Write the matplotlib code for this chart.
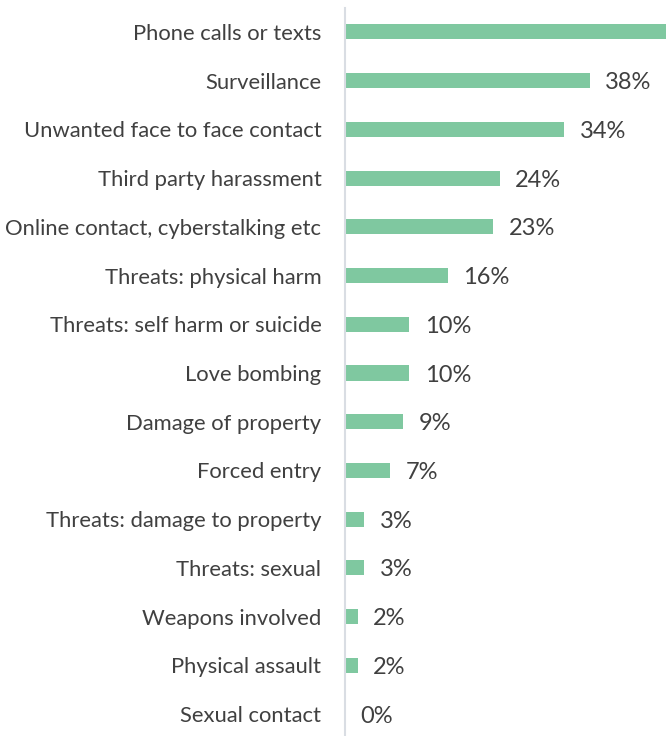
import matplotlib.pyplot as plt

categories = [
    "Phone calls or texts",
    "Surveillance",
    "Unwanted face to face contact",
    "Third party harassment",
    "Online contact, cyberstalking etc",
    "Threats: physical harm",
    "Threats: self harm or suicide",
    "Love bombing",
    "Damage of property",
    "Forced entry",
    "Threats: damage to property",
    "Threats: sexual",
    "Weapons involved",
    "Physical assault",
    "Sexual contact",
]
percent = [53, 38, 34, 24, 23, 16, 10, 10, 9, 7, 3, 3, 2, 2, 0]

bar_color = "#7fc8a0"
text_color = "#404040"
x_max = 49.8

plt.rcParams['font.family'] = ['Lato', 'DejaVu Sans']

fig = plt.figure(figsize=(6.66, 7.36), dpi=100)
ax = fig.add_axes([345 / 666, 0, 321 / 666, 728 / 736])

y = list(range(len(categories)))
ax.barh(y, percent, height=0.31, color=bar_color)

# value labels; the longest bar runs off the right edge so its label is not drawn
for yi, v in zip(y, percent):
    if v >= x_max:
        continue
    ax.annotate(f"{v}%", xy=(v, yi), xytext=(11, -1.5), textcoords="offset points",
                ha="left", va="center", fontsize=17, color=text_color)

ax.set_xlim(0, x_max)
ax.set_ylim(14.45, -0.49)
ax.set_yticks(y)
ax.set_yticklabels(categories, fontsize=15.8, color=text_color)
ax.tick_params(axis='y', length=0, pad=17)
ax.set_xticks([])

for side in ['top', 'right', 'bottom']:
    ax.spines[side].set_visible(False)
ax.spines['left'].set_color("#d9dde3")
ax.spines['left'].set_linewidth(1.5)

fig.savefig("out.png", dpi=100)
